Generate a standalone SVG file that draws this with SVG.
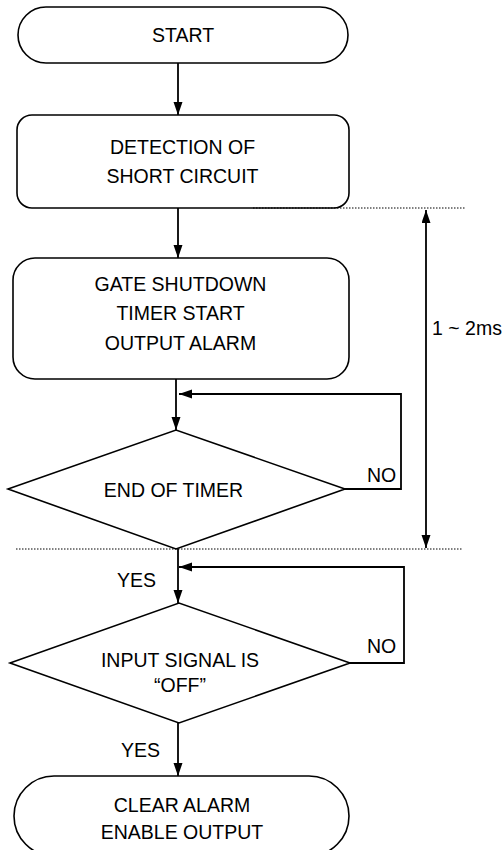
<svg xmlns="http://www.w3.org/2000/svg" width="503" height="850" viewBox="0 0 503 850">
<style>
.box{fill:#fff;stroke:#000;stroke-width:1.6}
.ln{fill:none;stroke:#000;stroke-width:1.8}
.dot{fill:none;stroke:#000;stroke-width:1;stroke-dasharray:1.5 1.5}
text{font-family:"Liberation Sans",Arial,sans-serif;font-size:19.5px;fill:#000}
.c{text-anchor:middle}
</style>
<defs>
<marker id="ah" markerUnits="userSpaceOnUse" markerWidth="14" markerHeight="10" refX="13" refY="4.5" orient="auto-start-reverse">
<path d="M0,0 L13,4.5 L0,9 z" fill="#000"/>
</marker>
</defs>
<rect width="503" height="850" fill="#fff"/>
<g id="connectors">
<line class="ln" x1="178" y1="63" x2="178" y2="115" marker-end="url(#ah)"/>
<line class="ln" x1="178" y1="208" x2="178" y2="258" marker-end="url(#ah)"/>
<line class="ln" x1="176" y1="379" x2="176" y2="430" marker-end="url(#ah)"/>
<polyline class="ln" points="345,489 401,489 401,394 179,394" marker-end="url(#ah)"/>
<line class="ln" x1="178" y1="549" x2="178" y2="603" marker-end="url(#ah)"/>
<polyline class="ln" points="350,663 404,663 404,567 179,567" marker-end="url(#ah)"/>
<line class="ln" x1="178" y1="723" x2="178" y2="776" marker-end="url(#ah)"/>
<text x="117" y="587">YES</text>
<text x="121" y="757">YES</text>
<text x="367" y="482">NO</text>
<text x="367" y="653">NO</text>
</g>
<g id="start">
<rect class="box" x="18" y="7" width="330" height="56" rx="28"/>
<text class="c" x="183" y="42">START</text>
</g>
<g id="detection">
<rect class="box" x="17" y="115" width="332" height="93" rx="15"/>
<text class="c" x="182.5" y="154">DETECTION OF</text>
<text class="c" x="182.5" y="183">SHORT CIRCUIT</text>
</g>
<g id="gate">
<rect class="box" x="13" y="258" width="336" height="121" rx="22"/>
<text class="c" x="180.5" y="291">GATE SHUTDOWN</text>
<text class="c" x="180.5" y="320">TIMER START</text>
<text class="c" x="180.5" y="350">OUTPUT ALARM</text>
</g>
<g id="endtimer">
<polygon class="box" points="8,489 176,430 345,489 176,549"/>
<text class="c" x="173.5" y="497">END OF TIMER</text>
</g>
<g id="inputoff">
<polygon class="box" points="10,663 179,603 350,663 179,723"/>
<text class="c" x="180" y="667">INPUT SIGNAL IS</text>
<text class="c" x="180" y="692">“OFF”</text>
</g>
<g id="clear">
<rect class="box" x="14" y="776" width="335" height="80" rx="40"/>
<text class="c" x="182" y="812">CLEAR ALARM</text>
<text class="c" x="182" y="839">ENABLE OUTPUT</text>
</g>
<g id="timing">
<line class="dot" x1="253" y1="208" x2="466" y2="208"/>
<line class="dot" x1="16" y1="549" x2="462" y2="549"/>
<line class="ln" x1="426" y1="210" x2="426" y2="548" marker-start="url(#ah)" marker-end="url(#ah)"/>
<text x="432" y="335">1 ~ 2ms</text>
</g>
</svg>
